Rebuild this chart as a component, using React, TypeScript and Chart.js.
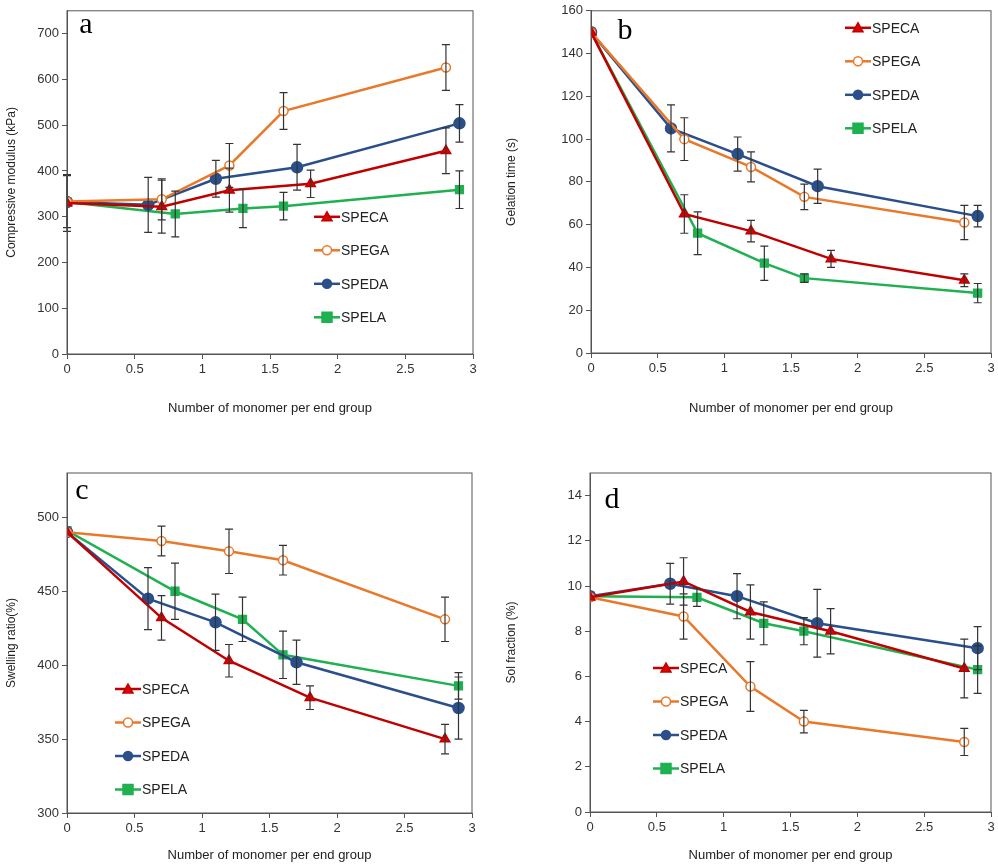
import { useEffect, useRef } from 'react';
import { Chart, registerables } from 'chart.js';

Chart.register(...registerables);

const SERIES = ['SPECA', 'SPEGA', 'SPEDA', 'SPELA'];
const X_CA = [0, 0.7, 1.2, 1.8, 2.8];
const X_GA = [0, 0.7, 1.2, 1.6, 2.8];
const X_DA = [0, 0.6, 1.1, 1.7, 2.9];
const X_LA = [0, 0.8, 1.3, 1.6, 2.9];

// a: compressive modulus
const A_CA = [330, 322, 358, 372, 444];
const A_CA_ERR = [62, 58, 48, 30, 50];
const A_GA = [333, 338, 412, 531, 626];
const A_GA_ERR = [57, 45, 48, 40, 50];
const A_DA = [332, 326, 383, 408, 504];
const A_DA_ERR = [0, 60, 40, 50, 41];
const A_LA = [332, 306, 318, 323, 359];
const A_LA_ERR = [0, 50, 42, 30, 41];

// b: gelation time
const B_CA = [150, 65, 57, 44, 34];
const B_CA_ERR = [0, 9, 5, 4, 3];
const B_GA = [150, 100, 87, 73, 61];
const B_GA_ERR = [0, 10, 7, 6, 8];
const B_DA = [150, 105, 93, 78, 64];
const B_DA_ERR = [0, 11, 8, 8, 5];
const B_LA = [150, 56, 42, 35, 28];
const B_LA_ERR = [0, 10, 8, 2, 4.5];

// c: swelling ratio
const C_CA = [490, 432, 403, 378, 350];
const C_CA_ERR = [0, 15, 11, 8, 10];
const C_GA = [490, 484, 477, 471, 431];
const C_GA_ERR = [0, 10, 15, 10, 15];
const C_DA = [490, 445, 429, 402, 371];
const C_DA_ERR = [0, 21, 19, 15, 21];
const C_LA = [491, 450, 431, 407, 386];
const C_LA_ERR = [0, 19, 15, 16, 9];

// d: sol fraction
const D_CA = [9.5, 10.2, 8.85, 8.0, 6.35];
const D_CA_ERR = [0, 1.05, 1.2, 1.0, 1.3];
const D_GA = [9.5, 8.65, 5.55, 4.0, 3.1];
const D_GA_ERR = [0, 1.0, 1.1, 0.5, 0.6];
const D_DA = [9.55, 10.1, 9.55, 8.35, 7.25];
const D_DA_ERR = [0, 0.9, 1.0, 1.5, 0.95];
const D_LA = [9.55, 9.5, 8.35, 8.0, 6.3];
const D_LA_ERR = [0, 0.4, 0.95, 0.6, 1.05];

const LINE_COLORS = ['#c00000', '#e8792b', '#2a4f8a', '#1fb050'];
const MARKER_FILL = ['#e00000', '#ffffff', '#2a4f8a', '#1fb050'];
const MARKER_STYLE = ['triangle', 'circle', 'circle', 'rect'];
const MARKER_RADIUS = [5.5, 4.5, 5.5, 5.5];
const XS = [X_CA, X_GA, X_DA, X_LA];

const FONT = '"Liberation Sans", Arial, sans-serif';

interface PanelProps {
    letter: string;
    yTitle: string;
    ys: number[][];
    errs: number[][];
    yMin: number;
    yMax: number;
    yStep: number;
    yWidth: number;
    xHeight: number;
    pad: { top: number; right: number };
    legendAt: { x: number; y: number };
    letterAt: { x: number; y: number };
    style: React.CSSProperties;
}

const onStep = (v: number, step: number) => Math.abs(v / step - Math.round(v / step)) < 1e-6;

function Panel(p: PanelProps) {
    const ref = useRef<HTMLCanvasElement>(null);

    useEffect(() => {
        if (!ref.current) return;
        const extras = {
            id: 'extras',
            afterDatasetsDraw(chart: Chart) {
                const ctx = chart.ctx;
                const xs = chart.scales.x;
                const ys = chart.scales.y;
                const a = chart.chartArea;
                ctx.save();
                // error bars
                ctx.strokeStyle = '#333';
                ctx.lineWidth = 1.2;
                chart.data.datasets.forEach((ds: any) => {
                    ds.data.forEach((pt: any, i: number) => {
                        const e = ds.err[i];
                        if (!e) return;
                        const px = xs.getPixelForValue(pt.x);
                        const y1 = ys.getPixelForValue(pt.y - e);
                        const y2 = ys.getPixelForValue(pt.y + e);
                        ctx.beginPath();
                        ctx.moveTo(px, y1); ctx.lineTo(px, y2);
                        ctx.moveTo(px - 4, y1); ctx.lineTo(px + 4, y1);
                        ctx.moveTo(px - 4, y2); ctx.lineTo(px + 4, y2);
                        ctx.stroke();
                    });
                });
                // frame
                ctx.strokeStyle = '#555';
                ctx.lineWidth = 1;
                ctx.strokeRect(a.left, a.top, a.right - a.left, a.bottom - a.top);
                // legend
                SERIES.forEach((name, i) => {
                    const lx = a.left + p.legendAt.x;
                    const ly = a.top + p.legendAt.y + i * 33.5;
                    ctx.strokeStyle = LINE_COLORS[i];
                    ctx.lineWidth = 2.5;
                    ctx.beginPath();
                    ctx.moveTo(lx, ly); ctx.lineTo(lx + 26, ly);
                    ctx.stroke();
                    ctx.fillStyle = MARKER_FILL[i];
                    ctx.lineWidth = 1.5;
                    ctx.beginPath();
                    if (MARKER_STYLE[i] === 'triangle') {
                        ctx.moveTo(lx + 13, ly - 5); ctx.lineTo(lx + 18, ly + 4); ctx.lineTo(lx + 8, ly + 4); ctx.closePath();
                    } else if (MARKER_STYLE[i] === 'rect') {
                        ctx.rect(lx + 8, ly - 5, 10, 10);
                    } else {
                        ctx.arc(lx + 13, ly, 4.5, 0, Math.PI * 2);
                    }
                    ctx.fill();
                    ctx.stroke();
                    ctx.fillStyle = '#222';
                    ctx.font = `14px ${FONT}`;
                    ctx.textBaseline = 'middle';
                    ctx.textAlign = 'left';
                    ctx.fillText(name, lx + 27, ly + 1);
                });
                // panel letter
                ctx.fillStyle = '#000';
                ctx.font = `30px "Liberation Serif", serif`;
                ctx.textAlign = 'center';
                ctx.textBaseline = 'middle';
                ctx.fillText(p.letter, a.left + p.letterAt.x, a.top + p.letterAt.y);
                ctx.restore();
            },
        };

        const chart = new Chart(ref.current, {
            type: 'scatter',
            data: {
                datasets: SERIES.map((name, i) => ({
                    label: name,
                    data: XS[i].map((x, j) => ({ x, y: p.ys[i][j] })),
                    err: p.errs[i],
                    showLine: true,
                    borderColor: LINE_COLORS[i],
                    borderWidth: 2.5,
                    pointStyle: MARKER_STYLE[i],
                    pointRadius: MARKER_RADIUS[i],
                    pointBackgroundColor: MARKER_FILL[i],
                    pointBorderColor: LINE_COLORS[i],
                    pointBorderWidth: 1.5,
                })) as any,
            },
            options: {
                animation: false,
                responsive: false,
                layout: { padding: { top: p.pad.top, right: p.pad.right, left: 0, bottom: 0 } },
                plugins: { legend: { display: false }, tooltip: { enabled: false } },
                scales: {
                    x: {
                        type: 'linear',
                        min: 0,
                        max: 3,
                        afterFit: (s: any) => { s.height = p.xHeight; },
                        grid: { drawOnChartArea: false, drawTicks: true, tickLength: 5, color: '#555' },
                        border: { color: '#555' },
                        ticks: { stepSize: 0.5, color: '#333', font: { family: FONT, size: 13 }, maxRotation: 0, callback: (v: any) => String(v) },
                        title: { display: true, text: 'Number of monomer per end group', color: '#222', font: { family: FONT, size: 13 }, padding: { top: 14 } },
                    },
                    y: {
                        min: p.yMin,
                        max: p.yMax,
                        afterFit: (s: any) => { s.width = p.yWidth; },
                        grid: {
                            drawOnChartArea: false, drawTicks: true, tickLength: 5,
                            color: (c: any) => (c.tick && onStep(c.tick.value, p.yStep) ? '#555' : 'rgba(0,0,0,0)'),
                        },
                        border: { color: '#555' },
                        ticks: {
                            stepSize: p.yStep,
                            color: '#333',
                            font: { family: FONT, size: 13 },
                            callback: (v: any) => (onStep(v, p.yStep) ? String(v) : ''),
                        },
                        title: { display: true, text: p.yTitle, color: '#222', font: { family: FONT, size: 12 }, padding: { bottom: 6 } },
                    },
                },
            },
            plugins: [extras],
        });
        return () => chart.destroy();
    }, []);

    const w = Number(p.style.width);
    const h = Number(p.style.height);
    return <canvas ref={ref} width={w} height={h} style={{ position: 'absolute', ...p.style }} />;
}

export default function App() {
    return (
        <div style={{ position: 'absolute', left: 0, top: 0, width: 998, height: 867, background: '#fff' }}>
            <Panel letter="a" yTitle="Compressive modulus (kPa)" ys={[A_CA, A_GA, A_DA, A_LA]} errs={[A_CA_ERR, A_GA_ERR, A_DA_ERR, A_LA_ERR]}
                yMin={0} yMax={750} yStep={100} yWidth={67} xHeight={66} pad={{ top: 9, right: 17 }}
                legendAt={{ x: 247, y: 206 }} letterAt={{ x: 19, y: 14 }} style={{ left: 0, top: 0, width: 490, height: 420 }} />
            <Panel letter="b" yTitle="Gelation time (s)" ys={[B_CA, B_GA, B_DA, B_LA]} errs={[B_CA_ERR, B_GA_ERR, B_DA_ERR, B_LA_ERR]}
                yMin={0} yMax={160} yStep={20} yWidth={91} xHeight={67} pad={{ top: 9, right: 1 }}
                legendAt={{ x: 254, y: 17 }} letterAt={{ x: 34, y: 20 }} style={{ left: 500, top: 0, width: 498, height: 420 }} />
            <Panel letter="c" yTitle="Swelling ratio(%)" ys={[C_CA, C_GA, C_DA, C_LA]} errs={[C_CA_ERR, C_GA_ERR, C_DA_ERR, C_LA_ERR]}
                yMin={300} yMax={530} yStep={50} yWidth={67} xHeight={54} pad={{ top: 33, right: 18 }}
                legendAt={{ x: 48, y: 216 }} letterAt={{ x: 15, y: 18 }} style={{ left: 0, top: 440, width: 490, height: 427 }} />
            <Panel letter="d" yTitle="Sol fraction (%)" ys={[D_CA, D_GA, D_DA, D_LA]} errs={[D_CA_ERR, D_GA_ERR, D_DA_ERR, D_LA_ERR]}
                yMin={0} yMax={15} yStep={2} yWidth={90} xHeight={55} pad={{ top: 33, right: 3 }}
                legendAt={{ x: 63, y: 195 }} letterAt={{ x: 22, y: 27 }} style={{ left: 500, top: 440, width: 498, height: 427 }} />
        </div>
    );
}
